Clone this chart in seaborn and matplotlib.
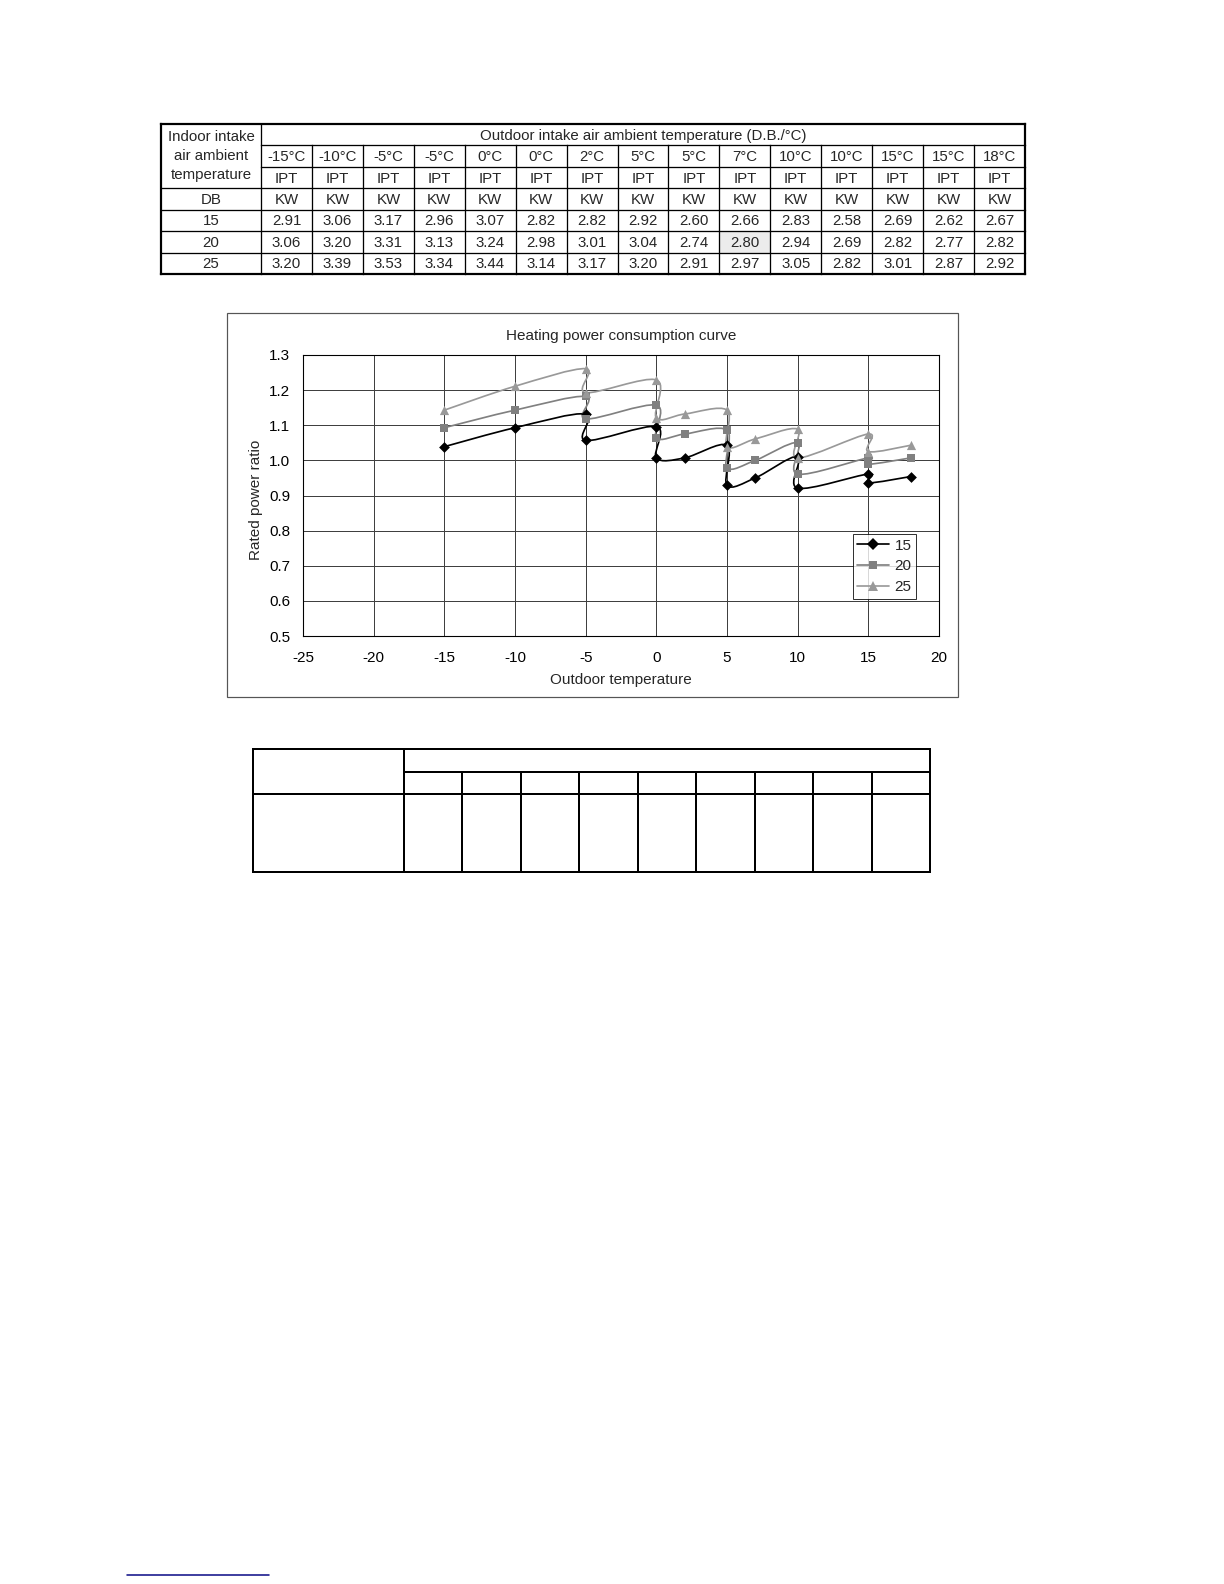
import numpy as np
import pandas as pd
import matplotlib
matplotlib.use("Agg")
import matplotlib.pyplot as plt
from matplotlib.path import Path
from matplotlib.patches import PathPatch, Rectangle
from matplotlib.lines import Line2D
import seaborn as sns

# ---------------- data ----------------
outdoor_labels = ["-15°C", "-10°C", "-5°C", "-5°C", "0°C", "0°C", "2°C", "5°C",
                  "5°C", "7°C", "10°C", "10°C", "15°C", "15°C", "18°C"]
outdoor_temps = [-15, -10, -5, -5, 0, 0, 2, 5, 5, 7, 10, 10, 15, 15, 18]
indoor_temps = ["15", "20", "25"]
kw_15 = ["2.91", "3.06", "3.17", "2.96", "3.07", "2.82", "2.82", "2.92", "2.60",
         "2.66", "2.83", "2.58", "2.69", "2.62", "2.67"]
kw_20 = ["3.06", "3.20", "3.31", "3.13", "3.24", "2.98", "3.01", "3.04", "2.74",
         "2.80", "2.94", "2.69", "2.82", "2.77", "2.82"]
kw_25 = ["3.20", "3.39", "3.53", "3.34", "3.44", "3.14", "3.17", "3.20", "2.91",
         "2.97", "3.05", "2.82", "3.01", "2.87", "2.92"]
ratio_15 = [1.039, 1.093, 1.132, 1.057, 1.096, 1.007, 1.007, 1.043, 0.929,
            0.950, 1.011, 0.921, 0.961, 0.936, 0.954]
ratio_20 = [1.093, 1.143, 1.182, 1.118, 1.157, 1.064, 1.075, 1.086, 0.979,
            1.000, 1.050, 0.961, 1.007, 0.989, 1.007]
ratio_25 = [1.143, 1.211, 1.261, 1.193, 1.229, 1.121, 1.132, 1.143, 1.039,
            1.061, 1.089, 1.007, 1.075, 1.025, 1.043]
y_ticks = [0.5, 0.6, 0.7, 0.8, 0.9, 1.0, 1.1, 1.2, 1.3]
x_ticks = [-25, -20, -15, -10, -5, 0, 5, 10, 15, 20]

# ---------------- style ----------------
sns.set_style("white")
plt.rcParams["font.family"] = ["Liberation Sans", "DejaVu Sans"]

W, H = 1224, 1584
fig = plt.figure(figsize=(W / 100, H / 100), dpi=100)
fig.patch.set_facecolor("white")

# overlay axes in pixel coordinates for tables / frames
ov = fig.add_axes([0, 0, 1, 1])
ov.set_xlim(0, W)
ov.set_ylim(H, 0)
ov.axis("off")

PX = 0.72  # points per pixel

def hline(y, x0, x1, lw=1.3, color="black"):
    ov.plot([x0, x1], [y, y], color=color, lw=lw * PX, solid_capstyle="projecting")

def vline(x, y0, y1, lw=1.3, color="black"):
    ov.plot([x, x], [y0, y1], color=color, lw=lw * PX, solid_capstyle="projecting")

# ---------------- top table ----------------
tl, tc0, tr = 161, 261, 1025
tt, tb = 124, 274
ncol = len(outdoor_labels)
cw = (tr - tc0) / ncol
rh = (tb - tt) / 7
ry = [tt + i * rh for i in range(8)]
cx = [tc0 + i * cw for i in range(ncol + 1)]

# shaded rated cell (7°C, indoor 20)
ov.add_patch(Rectangle((cx[9], ry[5]), cw, rh, facecolor="#ececec", edgecolor="none", zorder=0))

fs_t = 10.8
hline(ry[0], tl, tr, 2.2)
hline(ry[1], tc0, tr)
hline(ry[2], tc0, tr)
for k in (3, 4, 5, 6):
    hline(ry[k], tl, tr)
hline(ry[7], tl, tr, 2.2)
vline(tl, tt, tb, 2.2)
vline(tc0, tt, tb)
for k in range(1, ncol):
    vline(cx[k], ry[1], tb)
vline(tr, tt, tb, 2.2)

c0x = (tl + tc0) / 2
ov.text(c0x, 137, "Indoor intake", ha="center", va="center", fontsize=fs_t)
ov.text(c0x, 156, "air ambient", ha="center", va="center", fontsize=fs_t)
ov.text(c0x, 175, "temperature", ha="center", va="center", fontsize=fs_t)
ov.text(c0x, (ry[3] + ry[4]) / 2 + 1, "DB", ha="center", va="center", fontsize=fs_t)
for j, lab in enumerate(indoor_temps):
    ov.text(c0x, (ry[4 + j] + ry[5 + j]) / 2 + 1, lab, ha="center", va="center", fontsize=fs_t)
ov.text((tc0 + tr) / 2, (ry[0] + ry[1]) / 2 + 1, "Outdoor intake air ambient temperature (D.B./°C)",
        ha="center", va="center", fontsize=fs_t)
for i in range(ncol):
    xc = (cx[i] + cx[i + 1]) / 2
    ov.text(xc, (ry[1] + ry[2]) / 2 + 1, outdoor_labels[i], ha="center", va="center", fontsize=fs_t)
    ov.text(xc, (ry[2] + ry[3]) / 2 + 1, "IPT", ha="center", va="center", fontsize=fs_t)
    ov.text(xc, (ry[3] + ry[4]) / 2 + 1, "KW", ha="center", va="center", fontsize=fs_t)
    for j, vals in enumerate([kw_15, kw_20, kw_25]):
        ov.text(xc, (ry[4 + j] + ry[5 + j]) / 2 + 1, vals[i], ha="center", va="center", fontsize=fs_t)

# ---------------- chart frame ----------------
fs_c = 11
ov.add_patch(Rectangle((227, 313), 958 - 227, 697 - 313, facecolor="none",
                       edgecolor="#555555", lw=1.2 * PX))
ov.text(621, 336, "Heating power consumption curve", ha="center", va="center", fontsize=fs_c)
ov.text(621, 680, "Outdoor temperature", ha="center", va="center", fontsize=fs_c)
ov.text(256, 500, "Rated power ratio", ha="center", va="center", rotation=90, fontsize=fs_c)

# ---------------- chart ----------------
pl, pr, pt, pb = 303, 939, 355, 636
ax = fig.add_axes([pl / W, 1 - pb / H, (pr - pl) / W, (pb - pt) / H])
ax.set_xlim(-25, 20)
ax.set_ylim(0.5, 1.3)

series = [
    ("15", ratio_15, "#000000", "D", 30),
    ("20", ratio_20, "#808080", "s", 32),
    ("25", ratio_25, "#999999", "^", 44),
]

def smooth_path(xs, ys):
    pts = np.column_stack([xs, ys]).astype(float)
    n = len(pts)
    verts = [pts[0]]
    codes = [Path.MOVETO]
    for i in range(n - 1):
        p0 = pts[i - 1] if i > 0 else pts[i]
        p1 = pts[i]
        p2 = pts[i + 1]
        p3 = pts[i + 2] if i + 2 < n else pts[i + 1]
        c1 = p1 + (p2 - p0) / 6.0
        c2 = p2 - (p3 - p1) / 6.0
        verts += [c1, c2, p2]
        codes += [Path.CURVE4] * 3
    return Path(verts, codes)

LW = 1.7 * PX
handles = []
for name, vals, col, mk, sz in series:
    ax.add_patch(PathPatch(smooth_path(outdoor_temps, vals), facecolor="none",
                           edgecolor=col, lw=LW, zorder=2))
    df = pd.DataFrame({"temp": outdoor_temps, "ratio": vals})
    sns.scatterplot(data=df, x="temp", y="ratio", marker=mk, color=col, s=sz,
                    edgecolor=col, linewidth=0, ax=ax, zorder=3, legend=False)
    handles.append(Line2D([0], [0], color=col, lw=LW, marker=mk,
                          markersize=6 if mk != "^" else 7, markeredgewidth=0))

ax.set_xlim(-25, 20)
ax.set_ylim(0.5, 1.3)
ax.set_xticks(x_ticks)
ax.set_xticklabels([str(v) for v in x_ticks])
ax.set_yticks(y_ticks)
ax.set_yticklabels([f"{v:.1f}" for v in y_ticks])
ax.tick_params(length=0, labelsize=fs_c, colors="black")
ax.tick_params(axis="y", pad=9)
ax.tick_params(axis="x", pad=11)
ax.grid(True, color="#404040", lw=1.0 * PX)
ax.set_axisbelow(True)
for s in ax.spines.values():
    s.set_visible(True)
    s.set_color("black")
    s.set_linewidth(1.1 * PX)
ax.set_xlabel("")
ax.set_ylabel("")

leg = ax.legend(handles, indoor_temps, loc="upper right", bbox_to_anchor=(0.964, 0.363),
                borderaxespad=0, fontsize=fs_c, frameon=True, fancybox=False,
                handlelength=2.1, handletextpad=0.35, labelspacing=0.45,
                borderpad=0.3)
leg.get_frame().set_edgecolor("black")
leg.get_frame().set_linewidth(1.0 * PX)

# ---------------- bottom (empty) table ----------------
bl, bc0, br = 253, 404, 930
bt, bm, brw, bb = 749, 772, 794, 872
bcw = (br - bc0) / 9
blw = 2.0
hline(bt, bl, br, blw)
hline(bm, bc0, br, blw)
hline(brw, bl, br, blw)
hline(bb, bl, br, blw)
vline(bl, bt, bb, blw)
vline(bc0, bt, bb, blw)
for k in range(1, 9):
    vline(bc0 + k * bcw, bm, bb, blw)
vline(br, bt, bb, blw)

# ---------------- footnote rule ----------------
ov.plot([127, 269], [1575, 1575], color="#14148a", lw=1.6 * PX)

fig.savefig("out.png", dpi=100, facecolor="white")
